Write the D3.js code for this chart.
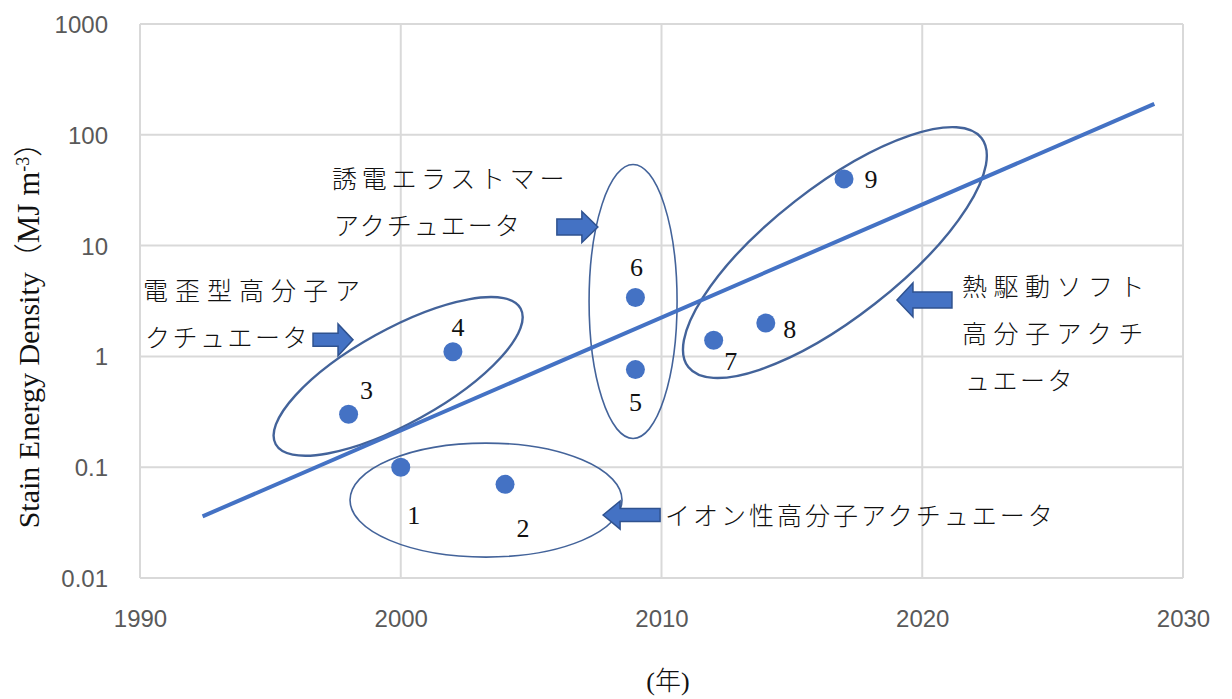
<!DOCTYPE html>
<html><head><meta charset="utf-8">
<script src="https://cdn.jsdelivr.net/npm/d3@7"></script>
<style>
html,body{margin:0;padding:0;background:#fff;}
svg{display:block;}
</style></head>
<body>
<svg id="chart" width="1232" height="699"></svg>
<script>
// ---- data ----
const years = [2000, 2004, 1998, 2002, 2009, 2009, 2012, 2014, 2017];
const values = [0.1, 0.07, 0.3, 1.1, 0.76, 3.4, 1.4, 2.0, 40];
const pointLabels = ["1", "2", "3", "4", "5", "6", "7", "8", "9"];
const trendYears = [1992.4, 2028.9];
const trendValues = [0.036, 190];
const xTicks = [1990, 2000, 2010, 2020, 2030];
const yTicks = [0.01, 0.1, 1, 10, 100, 1000];
const yTickLabels = ["0.01", "0.1", "1", "10", "100", "1000"];
const groupNames = ["電歪型高分子アクチュエータ", "イオン性高分子アクチュエータ", "誘電エラストマーアクチュエータ", "熱駆動ソフト高分子アクチュエータ"];
const groupCenterYears = [1999.9, 2003.27, 2008.91, 2016.65];
const groupCenterValues = [0.66, 0.0505, 3.13, 8.65];

// ---- layout (positions / sizes) ----
const labelOffsets = [[13, 48], [18, 44], [18, -24], [5, -24], [0, 33], [1, -30], [17, 21], [24, 6], [27, 1]];
const ellipseShapes = [ // rx, ry, rotation, stroke width
  [140, 47, -29, 2.4], [136, 57, 0, 1.6], [44, 137, 0, 1.6], [186, 65, -38, 2.4]
];
const arrowTipYears = [1998.17, 2007.76, 2007.56, 2019.03];
const arrowTipValues = [1.41, 0.037, 14.7, 3.23];
const arrowShapes = [ // dir, length, headLen, shaftH, headH
  [1, 40, 15, 13, 32], [-1, 57, 17, 13, 28], [1, 41, 16, 16, 31], [-1, 55, 16, 16, 34]
];
const groupTextLines = [
  [{t: "電歪型高分子ア", x: 143, y: 300, ls: 7}, {t: "クチュエータ", x: 145, y: 347, ls: 2.5}],
  [{t: "イオン性高分子アクチュエータ", x: 665, y: 525, ls: 3}],
  [{t: "誘電エラストマー", x: 332, y: 188, ls: 4.7}, {t: "アクチュエータ", x: 334, y: 235, ls: 2}],
  [{t: "熱駆動ソフト", x: 962, y: 296, ls: 6.5}, {t: "高分子アクチ", x: 962, y: 343, ls: 6.5}, {t: "ュエータ", x: 965, y: 390, ls: 2.5}]
];

const blue = "#4472C4", darkBlue = "#2F528F", grid = "#d9d9d9", tickCol = "#595959";
const cjk = "'Noto Sans CJK JP', sans-serif";
const serif = "'Liberation Serif', 'DejaVu Serif', serif";

const svg = d3.select("#chart");
const x = d3.scaleLinear().domain([1990, 2030]).range([140, 1183]);
const y = d3.scaleLog().domain([0.01, 1000]).range([578, 24]);

// gridlines
svg.append("g").selectAll("line").data(xTicks).join("line")
  .attr("x1", d => x(d)).attr("x2", d => x(d)).attr("y1", y(1000)).attr("y2", y(0.01))
  .attr("stroke", grid).attr("stroke-width", 2);
svg.append("g").selectAll("line").data(yTicks).join("line")
  .attr("y1", d => y(d)).attr("y2", d => y(d)).attr("x1", x(1990)).attr("x2", x(2030))
  .attr("stroke", grid).attr("stroke-width", 2);

// axes (labels only)
const xAxis = d3.axisBottom(x).tickValues(xTicks).tickFormat(d3.format("d")).tickSize(0).tickPadding(30);
const gx = svg.append("g").attr("transform", `translate(0,${y(0.01)})`).call(xAxis);
gx.select(".domain").remove();
gx.selectAll("text").attr("font-family", "'Liberation Sans', sans-serif").attr("font-size", 24).attr("fill", tickCol).attr("dy", 0).attr("y", 49);

const yAxis = d3.axisLeft(y).tickValues(yTicks).tickFormat((d, i) => yTickLabels[i]).tickSize(0).tickPadding(32);
const gy = svg.append("g").attr("transform", `translate(${x(1990)},0)`).call(yAxis);
gy.select(".domain").remove();
gy.selectAll("text").attr("font-family", "'Liberation Sans', sans-serif").attr("font-size", 24).attr("fill", tickCol).attr("dy", "0.35em");

// ellipses
groupNames.forEach((name, i) => {
  const [rx, ry, rot, sw] = ellipseShapes[i];
  const cx = x(groupCenterYears[i]), cy = y(groupCenterValues[i]);
  svg.append("ellipse").attr("cx", cx).attr("cy", cy).attr("rx", rx).attr("ry", ry)
    .attr("transform", `rotate(${rot},${cx},${cy})`)
    .attr("fill", "none").attr("stroke", darkBlue).attr("stroke-width", sw).attr("stroke-opacity", 0.9);
});

// trend line
const line = d3.line().x(d => x(d[0])).y(d => y(d[1]));
svg.append("path").datum(trendYears.map((t, i) => [t, trendValues[i]]))
  .attr("d", line).attr("stroke", blue).attr("stroke-width", 4).attr("fill", "none");

// points
svg.append("g").selectAll("circle").data(years.map((t, i) => ({t, v: values[i], i}))).join("circle")
  .attr("cx", d => x(d.t)).attr("cy", d => y(d.v)).attr("r", 9.5).attr("fill", blue);

// point labels
svg.append("g").selectAll("text").data(years.map((t, i) => ({t, v: values[i], i}))).join("text")
  .attr("x", d => x(d.t) + labelOffsets[d.i][0]).attr("y", d => y(d.v) + labelOffsets[d.i][1] + 8.5)
  .attr("text-anchor", "middle").attr("font-family", serif).attr("font-size", 26).attr("fill", "#111")
  .text(d => pointLabels[d.i]);

// arrows
arrowShapes.forEach((s, i) => {
  const [dir, len, hl, sh, hh] = s;
  const tx = x(arrowTipYears[i]), ty = y(arrowTipValues[i]);
  const bx = tx - dir * hl, ex = tx - dir * len;
  const pts = [[tx, ty], [bx, ty - hh / 2], [bx, ty - sh / 2], [ex, ty - sh / 2], [ex, ty + sh / 2], [bx, ty + sh / 2], [bx, ty + hh / 2]];
  svg.append("polygon").attr("points", pts.map(p => p.join(",")).join(" "))
    .attr("fill", blue).attr("stroke", darkBlue).attr("stroke-width", 1.5).attr("stroke-linejoin", "miter");
});

// group texts
groupTextLines.forEach(lines => {
  lines.forEach(l => {
    svg.append("text").attr("x", l.x).attr("y", l.y).attr("font-family", cjk).attr("font-weight", 300)
      .attr("font-size", 25).attr("letter-spacing", l.ls).attr("fill", "#111").text(l.t);
  });
});

// y axis title
const yt = svg.append("text").attr("transform", "translate(39,328) rotate(-90)")
  .attr("text-anchor", "middle").attr("font-family", serif).attr("font-size", 30).attr("fill", "#111");
yt.append("tspan").text("Stain Energy Density");
yt.append("tspan").attr("font-family", cjk).attr("font-weight", 300).attr("font-size", 29).text("（");
yt.append("tspan").attr("font-size", 31).text("MJ m");
yt.append("tspan").attr("baseline-shift", "super").attr("font-size", 18).text("-3");
yt.append("tspan").attr("font-family", cjk).attr("font-weight", 300).attr("font-size", 29).text("）");

// x axis title
const xt = svg.append("text").attr("x", 668).attr("y", 690).attr("text-anchor", "middle")
  .attr("font-family", serif).attr("font-size", 26).attr("fill", "#111");
xt.append("tspan").text("(");
xt.append("tspan").attr("font-family", cjk).attr("font-weight", 300).text("年");
xt.append("tspan").text(")");
</script>
</body></html>
